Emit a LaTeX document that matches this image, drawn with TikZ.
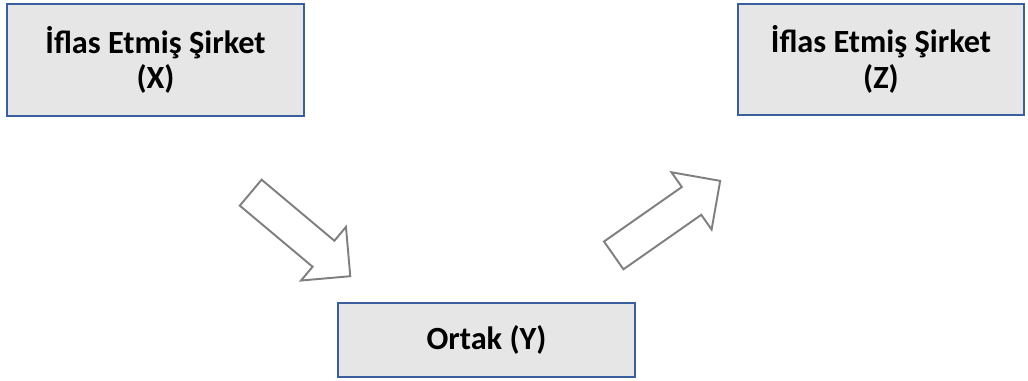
\documentclass[tikz,border=0pt]{standalone}
\usepackage{fontspec}
\setmainfont{Carlito}
\usetikzlibrary{shapes.arrows, positioning}

\definecolor{boxfill}{HTML}{E7E6E6}
\definecolor{boxline}{HTML}{3A5F9C}
\definecolor{arrowline}{HTML}{7F7F7F}

\begin{document}
\begin{tikzpicture}[x=0.02cm, y=-0.02cm,
        box/.style={draw=boxline, fill=boxfill, line width=1.2pt, align=center,
            font=\fontsize{18.4}{20.4}\selectfont\bfseries},
        blockarrow/.style={single arrow, draw=arrowline, fill=white, line width=1.1pt,
            inner xsep=0pt, inner ysep=0.32cm, single arrow head extend=0.36cm,
            minimum height=2.6cm}]
        \useasboundingbox (0,0) rectangle (1028,381);
        \node[box, minimum width=5.94cm, minimum height=2.24cm] (x) at (155.5,60) {İflas Etmiş Şirket\\(X)};
        \node[box, minimum width=5.72cm, minimum height=2.22cm] (z) at (881,59.5) {İflas Etmiş Şirket\\(Z)};
        \node[box, minimum width=5.94cm, minimum height=1.48cm] (y) at (486.5,340) {Ortak (Y)};

        \node[blockarrow, rotate=-40] (xy) at (294,229) {};
        \node[blockarrow, rotate=35] (yz) at (660,223) {};
    \end{tikzpicture}
\end{document}
